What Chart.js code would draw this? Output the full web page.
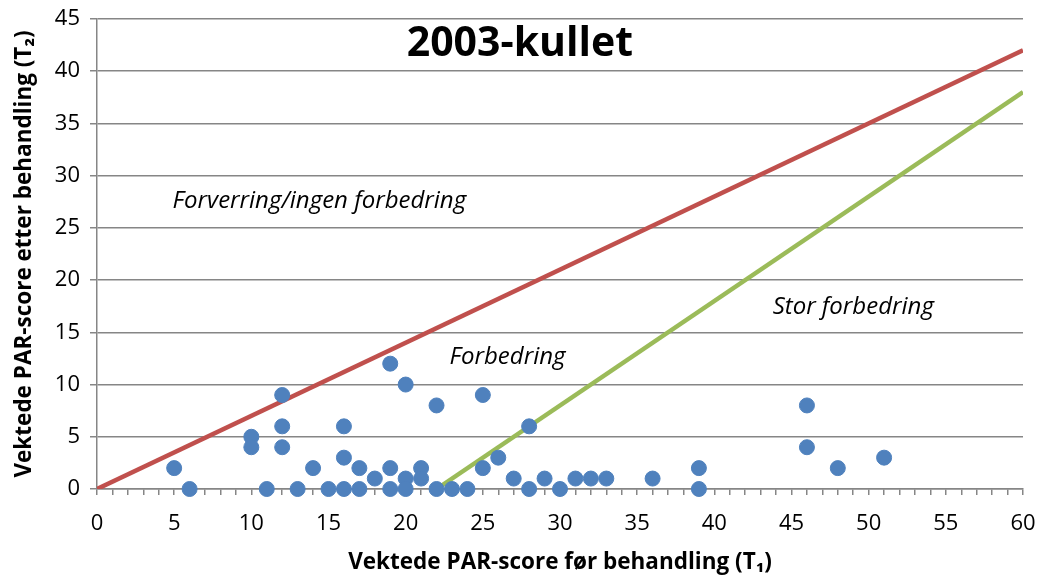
<!DOCTYPE html>
<html>
<head>
<meta charset="utf-8">
<script src="https://cdn.jsdelivr.net/npm/chart.js@4/dist/chart.umd.min.js"></script>
<style>
  html, body { margin: 0; padding: 0; background: #fff; }
  #wrap { width: 1040px; height: 579px; }
</style>
</head>
<body>
<div id="wrap"><canvas id="parChart" width="1040" height="579"></canvas></div>
<script>
// T1 (before) and T2 (after) weighted PAR scores
const scoreBefore = [5, 6, 10, 10, 11, 12, 12, 12, 13, 14, 15, 16, 16, 16, 17, 17, 18, 19, 19, 19,
                     20, 20, 20, 21, 21, 22, 22, 23, 24, 25, 25, 26, 27, 28, 28, 29, 30, 31, 32, 33,
                     36, 39, 39, 46, 46, 48, 51];
const scoreAfter  = [2, 0, 5, 4, 0, 9, 6, 4, 0, 2, 0, 6, 3, 0, 2, 0, 1, 12, 2, 0,
                     10, 1, 0, 2, 1, 8, 0, 0, 0, 9, 2, 3, 1, 6, 0, 1, 0, 1, 1, 1,
                     1, 2, 0, 8, 4, 2, 3];

// reference lines: worse/no improvement and large improvement
const redLineX = [0, 60];
const redLineY = [0, 42];
const greenLineX = [22, 60];
const greenLineY = [0, 38];

const yTicks = [0, 5, 10, 15, 20, 25, 30, 35, 40, 45];

const chartTitle = '2003-kullet';
const xTitle = 'Vektede PAR-score før behandling (T₁)';
const yTitle = 'Vektede PAR-score etter behandling (T₂)';
const zoneLabels = ['Forverring/ingen forbedring', 'Forbedring', 'Stor forbedring'];
const zoneX = [4.9, 26.6, 49.0];
const zoneY = [27.6, 12.6, 17.4];
const zoneAlign = ['left', 'center', 'center'];

const FONT = "'Open Sans', 'Noto Sans', sans-serif";

const toPoints = (xs, ys) => xs.map((x, i) => ({ x: x, y: ys[i] }));

const textPlugin = {
    id: 'chartText',
    afterDatasetsDraw(chart) {
        const { ctx, scales } = chart;
        const xs = scales.x, ys = scales.y;
        ctx.save();
        ctx.fillStyle = '#000';
        ctx.textBaseline = 'middle';
        ctx.font = 'bold 41px ' + FONT;
        ctx.textAlign = 'center';
        ctx.fillText(chartTitle, xs.getPixelForValue(27.4), ys.getPixelForValue(42.6));
        ctx.font = 'italic 24px ' + FONT;
        zoneLabels.forEach((t, i) => {
            ctx.textAlign = zoneAlign[i];
            ctx.fillText(t, xs.getPixelForValue(zoneX[i]), ys.getPixelForValue(zoneY[i]));
        });
        ctx.restore();
    }
};

new Chart(document.getElementById('parChart'), {
    type: 'scatter',
    data: {
        datasets: [
            {
                label: 'Pasienter',
                data: toPoints(scoreBefore, scoreAfter),
                backgroundColor: '#4f81bd',
                borderColor: '#4f81bd',
                pointRadius: 7.5,
                clip: false,
                order: 0
            },
            {
                label: 'Ingen forbedring',
                type: 'line',
                data: toPoints(redLineX, redLineY),
                borderColor: '#c0504d',
                borderWidth: 4.5,
                pointRadius: 0,
                fill: false,
                order: 1
            },
            {
                label: 'Stor forbedring',
                type: 'line',
                data: toPoints(greenLineX, greenLineY),
                borderColor: '#9bbb59',
                borderWidth: 4.5,
                pointRadius: 0,
                fill: false,
                order: 1
            }
        ]
    },
    options: {
        responsive: false,
        animation: false,
        layout: { padding: { top: 19, right: 17, left: 0, bottom: 0 } },
        plugins: {
            legend: { display: false },
            tooltip: { enabled: false }
        },
        scales: {
            x: {
                type: 'linear',
                min: 0,
                max: 60,
                border: { color: '#868686', width: 1.5 },
                grid: { drawOnChartArea: false, drawTicks: true, tickLength: 6, color: '#868686', lineWidth: 1.5 },
                ticks: {
                    stepSize: 1,
                    autoSkip: false,
                    maxRotation: 0,
                    padding: 16,
                    color: '#000',
                    font: { family: FONT, size: 22 },
                    callback: v => (v % 5 === 0 ? String(v) : '')
                },
                title: {
                    display: true,
                    text: xTitle,
                    color: '#000',
                    font: { family: FONT, size: 22.5, weight: 'bold' },
                    padding: { top: 4, bottom: 3 }
                },
                afterFit: s => { s.height = 90; s.paddingLeft = 0; s.paddingRight = 0; }
            },
            y: {
                type: 'linear',
                min: 0,
                max: 45,
                border: { color: '#868686', width: 1.5 },
                grid: { color: '#868686', lineWidth: 1.5, tickLength: 7 },
                afterBuildTicks: s => { s.ticks = yTicks.map(v => ({ value: v })); },
                ticks: {
                    padding: 10,
                    color: '#000',
                    font: { family: FONT, size: 22 }
                },
                title: {
                    display: true,
                    text: yTitle,
                    color: '#000',
                    font: { family: FONT, size: 22.5, weight: 'bold' },
                    padding: { top: 11, bottom: 4 }
                },
                afterFit: s => { s.width = 97; s.paddingTop = 0; s.paddingBottom = 0; }
            }
        }
    },
    plugins: [textPlugin]
});
</script>
</body>
</html>
